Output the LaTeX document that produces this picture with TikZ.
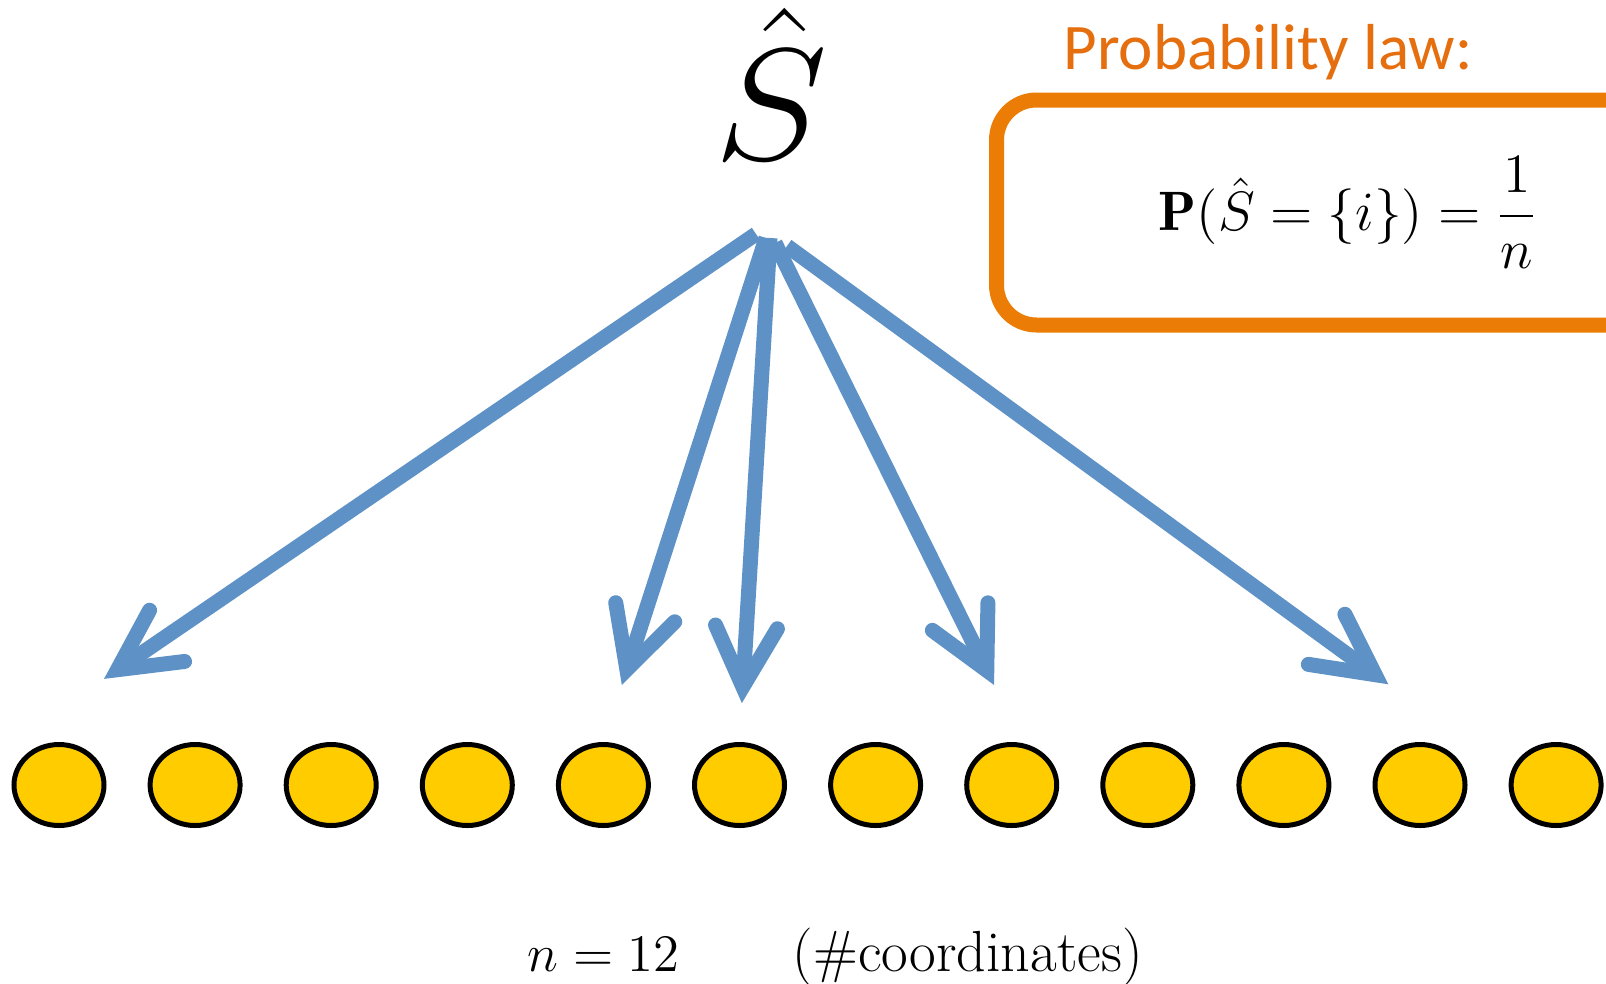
\RequirePackage{fix-cm}
\documentclass[tikz,border=0pt]{standalone}
\usepackage{fontspec}
\usepackage{amsmath}
\usetikzlibrary{arrows.meta,shapes.geometric,positioning}
\newfontfamily\lawfont{Carlito}
\definecolor{pickblue}{RGB}{94,146,198}
\definecolor{coordyellow}{RGB}{255,204,0}
\definecolor{boxorange}{RGB}{235,125,6}
\definecolor{laworange}{RGB}{229,110,14}

\begin{document}
\begin{tikzpicture}[
  dot/.style={ellipse, draw, line width=0.05cm, fill=coordyellow, minimum width=0.90cm, minimum height=0.81cm, inner sep=0pt},
  pick/.style={draw=pickblue, line width=0.15cm, -{Straight Barb[length=0.6cm,width=0.62cm,line cap=round,line join=miter]}},
  lawbox/.style={draw=boxorange, line width=0.15cm, rounded corners=0.4cm, minimum width=7.03cm, minimum height=2.25cm, inner sep=0pt}
]
\tikzstyle{every node}=[inner sep=0pt]
\useasboundingbox (0,0) rectangle (16.06,9.83);
\node[anchor=base] (hat) at (7.71,8.24) {\fontsize{40}{48}\selectfont\scalebox{1.22}[1.13]{$\hat{S}$}};
\coordinate (root) at (7.70,7.45);
% the n coordinates
\foreach \i in {1,...,12}
  \node[dot] (c\i) at ({0.59+1.361*(\i-1)},1.98) {};
\draw[pick, shorten >=1.12cm] ([shift={(-0.14,0.04)}]root) -- (c1.north -| c1.west);
\draw[pick, shorten >=0.60cm] ([shift={(-0.04,0)}]root) -- (c5.north);
\draw[pick, shorten >=0.39cm] (root) -- (c6.north);
\draw[pick, shorten >=0.65cm] ([shift={(0.05,-0.05)}]root) -- (c8.75);
\draw[pick, shorten >=0.98cm] ([shift={(0.17,-0.08)}]root) -- (c11.north -| c11.east);
% probability law
\node[lawbox] (law) at (13.48,7.705) {\fontsize{15.8}{18}\selectfont $\displaystyle \mathbf{P}(\hat{S}=\{i\})=\frac{1}{n}$};
\node[anchor=base west, text=laworange] (lawtitle) at (10.63,9.14) {\lawfont\fontsize{18.5}{22}\selectfont Probability law:};
\node[anchor=base west] (count) at (5.27,0.12) {\fontsize{15}{18}\selectfont $n=12$};
\node[anchor=base west] (note) at (7.92,0.12) {\fontsize{16.5}{18}\selectfont (\#coordinates)};
\end{tikzpicture}
\end{document}
